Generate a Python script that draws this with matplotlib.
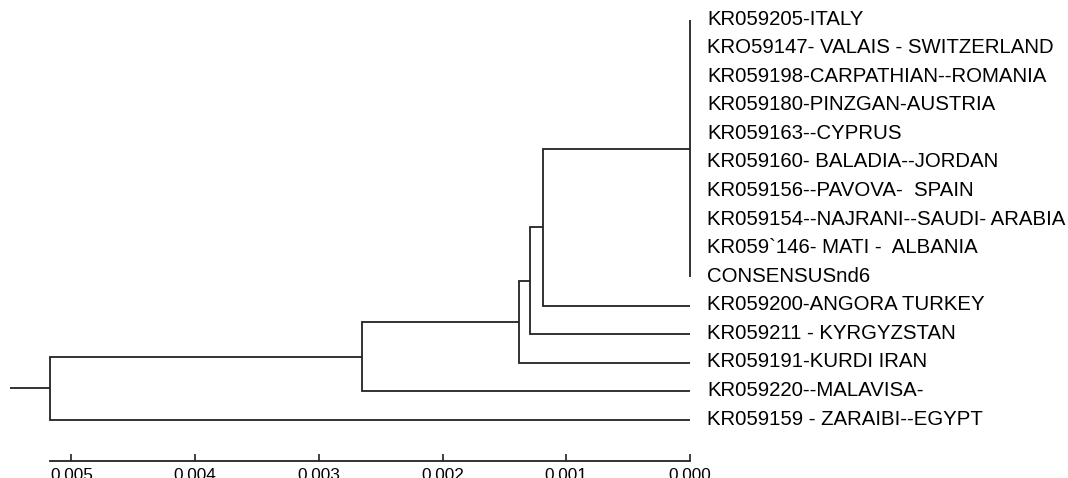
import matplotlib
matplotlib.use("Agg")
import matplotlib.pyplot as plt
from matplotlib.transforms import offset_copy

# Leaf labels, top to bottom
leaf_labels = [
    "KR059205-ITALY",
    "KRO59147- VALAIS - SWITZERLAND",
    "KR059198-CARPATHIAN--ROMANIA",
    "KR059180-PINZGAN-AUSTRIA",
    "KR059163--CYPRUS",
    "KR059160- BALADIA--JORDAN",
    "KR059156--PAVOVA-  SPAIN",
    "KR059154--NAJRANI--SAUDI- ARABIA",
    "KR059`146- MATI -  ALBANIA",
    "CONSENSUSnd6",
    "KR059200-ANGORA TURKEY",
    "KR059211 - KYRGYZSTAN",
    "KR059191-KURDI IRAN",
    "KR059220--MALAVISA-",
    "KR059159 - ZARAIBI--EGYPT",
]
# number of leaves in the zero-length polytomy at the top
core_count = 10
# heights (distance from tips) at which each following leaf joins the clade
join_heights = [0.001188, 0.001293, 0.001382, 0.002652, 0.005174]
root_stub = 0.000323
scale_ticks = [0.005, 0.004, 0.003, 0.002, 0.001, 0.000]
scale_ticklabels = ["0.005", "0.004", "0.003", "0.002", "0.001", "0.000"]

LINE = "#222222"
LW = 1.3

fig = plt.figure(figsize=(10.68, 4.78), dpi=100)
ax = fig.add_axes([0, 0, 1, 1])

# zero-length polytomy
ax.plot([0, 0], [0, core_count - 1], color=LINE, lw=LW, solid_capstyle="butt")

clade_y = (core_count - 1) / 2.0
clade_h = 0.0
for k, h in enumerate(join_heights):
    leaf_i = core_count + k
    ax.plot([clade_h, h, h, 0], [clade_y, clade_y, leaf_i, leaf_i],
            color=LINE, lw=LW, solid_joinstyle="miter", solid_capstyle="butt")
    clade_y = (clade_y + leaf_i) / 2.0
    clade_h = h
ax.plot([clade_h, clade_h + root_stub], [clade_y, clade_y],
        color=LINE, lw=LW, solid_capstyle="butt")

lab_tr = offset_copy(ax.transData, fig=fig, x=17, y=1, units="dots")
for i, lab in enumerate(leaf_labels):
    ax.text(0, i, lab, transform=lab_tr, ha="left", va="center",
            fontsize=14.7, family="Liberation Sans", color="black")

ax.set_xlim(0.005578, -0.003056)
ax.set_ylim(16.028, -0.700)

for s in ("left", "right", "top"):
    ax.spines[s].set_visible(False)
ax.spines["bottom"].set_position(("data", 15.433))
ax.spines["bottom"].set_bounds(0, join_heights[-1])
ax.spines["bottom"].set_linewidth(1.3)
ax.spines["bottom"].set_color(LINE)
ax.set_yticks([])
ax.set_xticks(scale_ticks)
ax.set_xticklabels(scale_ticklabels, family="Liberation Sans")
ax.tick_params(axis="x", direction="in", length=5, width=1.2, pad=5,
               labelsize=12.4, color=LINE)

fig.savefig("out.png", dpi=100)
